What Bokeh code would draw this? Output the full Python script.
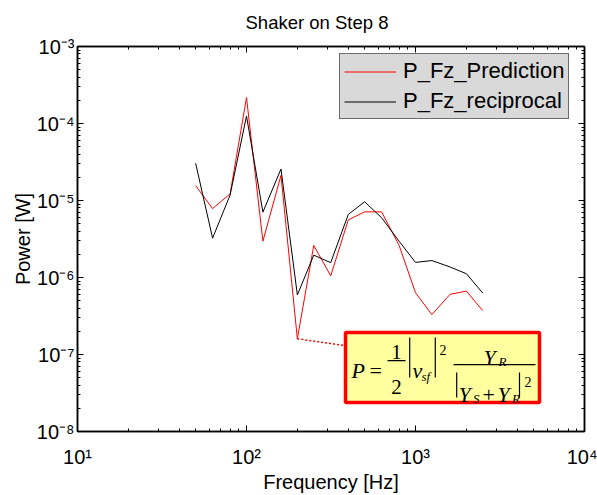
from bokeh.plotting import figure
from bokeh.models import (Label, BoxAnnotation, Arrow, LogAxis, FixedTicker,
                          CustomJSTickFormatter, Legend, LegendItem)
from bokeh.embed import file_html
from bokeh.resources import INLINE
import math

# ---- data ----
freq = [50, 63, 80, 100, 125, 160, 200, 250, 315, 400, 500, 630, 800,
        1000, 1250, 1600, 2000, 2500]
p_pred = [1.56e-5, 7.85e-6, 1.22e-5, 2.17e-4, 2.96e-6, 2.12e-5, 1.6e-7,
          2.61e-6, 1.05e-6, 5.59e-6, 7.12e-6, 7.12e-6, 2.61e-6, 6.34e-7,
          3.30e-7, 6.04e-7, 6.66e-7, 3.71e-7]
p_recip = [3.05e-5, 3.24e-6, 1.18e-5, 1.25e-4, 7.06e-6, 2.56e-5, 5.93e-7,
           1.95e-6, 1.56e-6, 6.58e-6, 9.62e-6, 5.98e-6, 2.96e-6, 1.57e-6,
           1.66e-6, 1.37e-6, 1.12e-6, 6.28e-7]
x_tick_exp = [1, 2, 3, 4]
y_tick_exp = [-8, -7, -6, -5, -4, -3]
title_text = "Shaker on Step 8"
x_label = "Frequency [Hz]"
y_label = "Power [W]"
series_names = ["P_Fz_Prediction", "P_Fz_reciprocal"]
series_colors = ["#ff0000", "black"]
annot_index = 6  # 200 Hz point referenced by the formula box

SANS = "Liberation Sans"
SERIF = "Liberation Serif"

# frame in canvas pixels: left 77, top 45, right 584, bottom 439
FL, FT, FR, FB = 77, 45, 584, 439
W, H = 597, 495

p = figure(width=W, height=H, x_axis_type="log", y_axis_type="log",
           x_range=(10, 1e4), y_range=(1e-8, 1e-3),
           output_backend="svg", toolbar_location=None,
           min_border_left=FL, min_border_right=W - FR, min_border_top=FT,
           min_border_bottom=H - FB, background_fill_color="white",
           border_fill_color="white")
p.xgrid.grid_line_color = None
p.ygrid.grid_line_color = None
p.outline_line_color = "black"
p.outline_line_width = 1.5

p.title.text = title_text
p.title.text_font = SANS
p.title.text_font_size = "18.5px"
p.title.text_font_style = "normal"
p.title.text_color = "black"
p.title.align = "left"
p.title.vertical_align = "top"
p.title.offset = 168
p.title.standoff = 23


def minor_list(exps):
    return [m * 10.0 ** e for e in exps[:-1] for m in range(2, 10)]


xticker = FixedTicker(ticks=[10.0 ** e for e in x_tick_exp],
                      minor_ticks=minor_list(x_tick_exp))
yticker = FixedTicker(ticks=[10.0 ** e for e in y_tick_exp],
                      minor_ticks=minor_list(y_tick_exp))

sup_code = """
const sup = {'0':'\u2070','1':'\u00b9','2':'\u00b2','3':'\u00b3','4':'\u2074',
             '5':'\u2075','6':'\u2076','7':'\u2077','8':'\u2078','9':'\u2079','-':'\u207b'};
const e = Math.round(Math.log10(tick));
return '10' + String(e).split('').map(c => sup[c]).join('');
"""
sup_fmt = CustomJSTickFormatter(code=sup_code)
empty_fmt = CustomJSTickFormatter(code="return ''")

p.add_layout(LogAxis(), "right")
p.add_layout(LogAxis(), "above")
for ax in p.axis:
    ax.major_tick_in = 6
    ax.major_tick_out = 0
    ax.minor_tick_in = 3
    ax.minor_tick_out = 0
    ax.axis_line_width = 1.5
    ax.axis_line_color = "black"
    ax.major_tick_line_color = "black"
    ax.minor_tick_line_color = "black"
    ax.major_label_text_font = SANS
    ax.major_label_text_font_size = "20px"
    ax.major_label_text_color = "black"
    ax.axis_label_text_font = SANS
    ax.axis_label_text_font_size = "20px"
    ax.axis_label_text_font_style = "normal"
    ax.axis_label_text_color = "black"
for ax in p.xaxis:
    ax.ticker = xticker
for ax in p.yaxis:
    ax.ticker = yticker
for ax in p.above + p.right:
    if isinstance(ax, LogAxis):
        ax.formatter = empty_fmt
        ax.major_label_standoff = 0

bx = p.below[0]
bx.formatter = sup_fmt
bx.major_label_standoff = 14
bx.axis_label = x_label
bx.axis_label_standoff = 0

ly = p.left[0]
ly.formatter = sup_fmt
ly.major_label_standoff = 3
ly.axis_label = y_label
ly.axis_label_standoff = 0

r_pred = p.line(freq, p_pred, line_color=series_colors[0], line_width=1)
r_recip = p.line(freq, p_recip, line_color=series_colors[1], line_width=1)

legend = Legend(items=[LegendItem(label=series_names[0], renderers=[r_pred]),
                       LegendItem(label=series_names[1], renderers=[r_recip])],
                location=(339 - FL, FB - 127), margin=0, padding=4, spacing=4,
                glyph_width=52, glyph_height=25, label_height=25,
                label_standoff=7, label_text_font=SANS,
                label_text_font_size="22px", label_text_color="black",
                background_fill_color="#d9d9d9", background_fill_alpha=1,
                border_line_color="black", border_line_width=1)
p.add_layout(legend)


def sx(px):
    return px - FL


def sy(py):
    return FB - py


# formula box
p.add_layout(Arrow(end=None, x_start=freq[annot_index], y_start=p_pred[annot_index],
                   start_units="data", x_end=sx(344), y_end=sy(353),
                   end_units="screen", line_color="#ff0000", line_width=1.5,
                   line_dash="2 2"))
p.add_layout(BoxAnnotation(left=sx(345), right=sx(539), top=sy(340), bottom=sy(410),
                           left_units="screen", right_units="screen",
                           top_units="screen", bottom_units="screen",
                           fill_color="#ffffa0", fill_alpha=1,
                           line_color="#ff0000", line_width=3.5, line_alpha=1))


def bar(x0, x1, y0, y1):
    p.add_layout(BoxAnnotation(left=sx(x0), right=sx(x1), top=sy(y0), bottom=sy(y1),
                               left_units="screen", right_units="screen",
                               top_units="screen", bottom_units="screen",
                               fill_color="black", fill_alpha=1,
                               line_color=None))


bar(387, 405, 367.5, 368.7)
bar(453, 535, 371.5, 372.7)
bar(408.6, 409.8, 345, 385)
bar(434.2, 435.4, 345, 385)
bar(455.6, 456.8, 380, 405)
bar(518.4, 519.6, 380, 405)


def ftxt(x, y, t, size, italic=True, align="left"):
    p.add_layout(Label(x=sx(x), y=sy(y), x_units="screen", y_units="screen",
                       text=t, text_font=SERIF, text_font_size=size,
                       text_font_style="italic" if italic else "normal",
                       text_align=align, text_baseline="alphabetic",
                       text_color="black"))


ftxt(351, 378, "P", "22px")
ftxt(369, 378, "=", "22px", italic=False)
ftxt(396, 359, "1", "21px", italic=False, align="center")
ftxt(396, 394, "2", "21px", italic=False, align="center")
ftxt(412, 378, "v", "22px")
ftxt(421, 384, "sf", "13px")
ftxt(439, 357, "2", "14px", italic=False)
ftxt(483, 365, "Y", "22px")
ftxt(498, 369, "R", "13px")
ftxt(458, 402, "Y", "22px")
ftxt(472.5, 406, "S", "13px")
ftxt(482, 402, "+", "22px", italic=False)
ftxt(497, 402, "Y", "22px")
ftxt(511.5, 406, "R", "13px")
ftxt(524, 389, "2", "14px", italic=False)

open("out.html", "w").write(file_html(p, INLINE))
